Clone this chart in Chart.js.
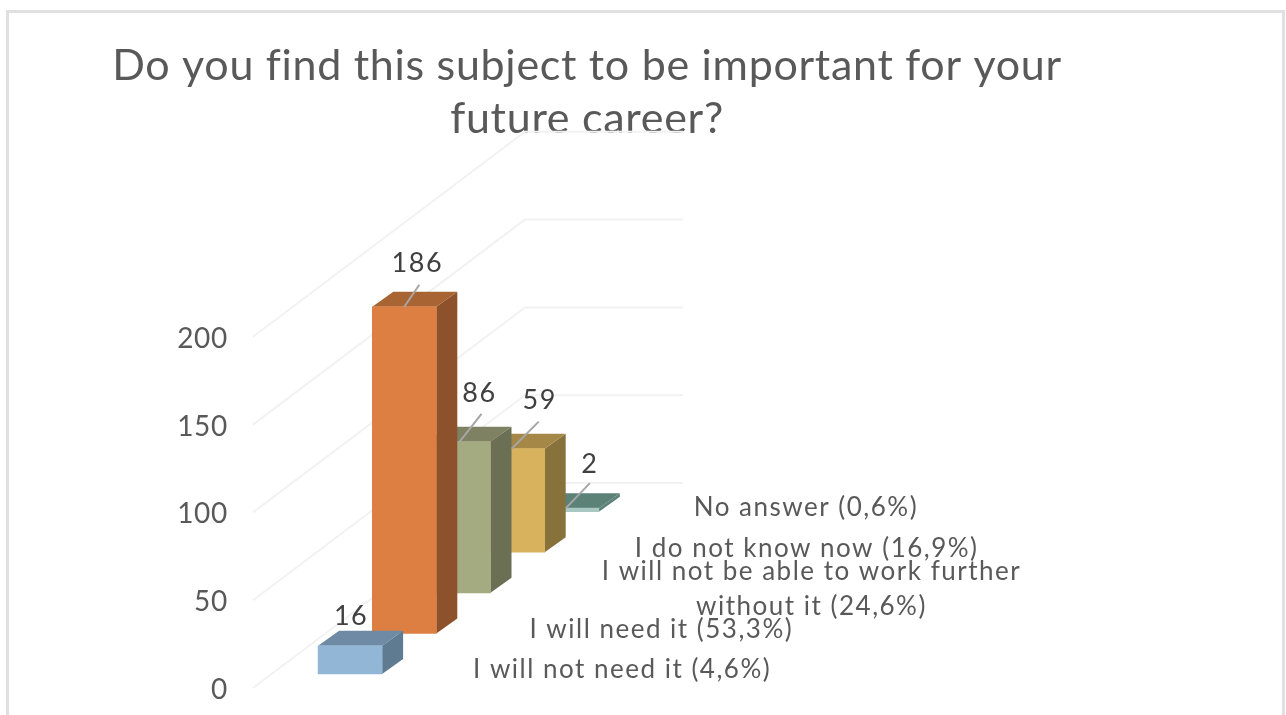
<!DOCTYPE html>
<html>
<head>
<meta charset="utf-8">
<title>Future career</title>
<script src="https://cdn.jsdelivr.net/npm/chart.js@4"></script>
<style>
    html, body { margin: 0; background: #fff; overflow: hidden; }
    #frame { position: absolute; left: 6px; top: 10px; width: 1273px; height: 720px; border: 3px solid #e0e0e0; }
    canvas { position: absolute; left: 0; top: 0; }
</style>
</head>
<body>
<div id="frame"></div>
<canvas id="careerChart" width="1286" height="715"></canvas>
<script>
// back row first, so nearer bars paint over the ones behind them
const categories = [
    'No answer (0,6%)',
    'I do not know now (16,9%)',
    ['I will not be able to work further', 'without it (24,6%)'],
    'I will need it (53,3%)',
    'I will not need it (4,6%)'
];
const answers = [2, 59, 86, 186, 16];
const yTicks = [0, 50, 100, 150, 200];

const frontColors = ['#a9c8c2', '#d8b25c', '#a5ab81', '#dd7f43', '#92b6d5'];
const topColors = ['#5c8278', '#a58847', '#7e8262', '#a96433', '#6f8aa5'];
const sideColors = ['#5c8278', '#87723c', '#6b7054', '#8d512b', '#5f7b91'];

// where the text sits relative to the top-centre of each bar's front face
const valueOffset = [[23, -44], [27, -48], [21, -48], [13, -43], [1, -30]];
const leaderEnd = [[23, -25], [26, -27], [23, -28], [15, -22], null];
const leaderStartDx = [-1, -1, 1, 0, 0];
const categoryDx = [239, 294, 353, 257, 272];

// 3D look: depth of one bar, and how far each row lifts off the floor (in axis units)
const DEPTH_X = 21, DEPTH_Y = 15;
const FLOOR_LIFT = 8, ROW_LIFT = 23.1;
const TEXT_COLOR = '#595959';

const spans = answers.map((v, i) => {
    const lift = FLOOR_LIFT + ROW_LIFT * (answers.length - 1 - i);
    return [lift, lift + v];
});

function poly(ctx, color, pts) {
    ctx.fillStyle = color;
    ctx.beginPath();
    pts.forEach((p, i) => i ? ctx.lineTo(p[0], p[1]) : ctx.moveTo(p[0], p[1]));
    ctx.closePath();
    ctx.fill();
}

class Bar3DController extends Chart.BarController {
    draw() {
        const ctx = this.chart.ctx;
        this.getMeta().data.forEach((bar, i) => {
            const l = bar.x - bar.width / 2, r = bar.x + bar.width / 2;
            poly(ctx, sideColors[i], [[r, bar.y], [r + DEPTH_X, bar.y - DEPTH_Y], [r + DEPTH_X, bar.base - DEPTH_Y], [r, bar.base]]);
            poly(ctx, topColors[i], [[l, bar.y], [l + DEPTH_X, bar.y - DEPTH_Y], [r + DEPTH_X, bar.y - DEPTH_Y], [r, bar.y]]);
            bar.draw(ctx);
        });
    }
}
Bar3DController.id = 'bar3d';
Bar3DController.defaults = Chart.BarController.defaults;
Chart.register(Bar3DController);

// the slanted floor/wall gridlines
const wallGrid = {
    id: 'wallGrid',
    beforeDatasetsDraw(chart) {
        const { ctx, scales: { y } } = chart;
        ctx.save();
        ctx.strokeStyle = '#f2f2f2';
        ctx.lineWidth = 2;
        yTicks.forEach(v => {
            const py = y.getPixelForValue(v);
            ctx.beginPath();
            ctx.moveTo(253, py);
            ctx.lineTo(525, py - 205);
            ctx.lineTo(683, py - 205);
            ctx.stroke();
        });
        ctx.restore();
    }
};

const barText = {
    id: 'barText',
    beforeDraw(chart) {
        // title is centred on the slide area, not on the plot
        chart.titleBlock.left = 0;
        chart.titleBlock.right = 1174;
        chart.ctx.letterSpacing = '0.7px';
    },
    afterDatasetsDraw(chart) {
        const ctx = chart.ctx;
        const bars = chart.getDatasetMeta(0).data;
        ctx.save();
        ctx.textAlign = 'center';
        ctx.textBaseline = 'middle';
        ctx.letterSpacing = '1.5px';
        bars.forEach((bar, i) => {
            if (leaderEnd[i]) {
                ctx.strokeStyle = '#a6a6a6';
                ctx.lineWidth = 2;
                ctx.beginPath();
                ctx.moveTo(bar.x + leaderStartDx[i], bar.y);
                ctx.lineTo(bar.x + leaderEnd[i][0], bar.y + leaderEnd[i][1]);
                ctx.stroke();
            }
            ctx.font = '27px Lato';
            ctx.fillStyle = '#404040';
            ctx.fillText(answers[i], bar.x + valueOffset[i][0], bar.y + valueOffset[i][1]);

            ctx.font = '26px Lato';
            ctx.fillStyle = TEXT_COLOR;
            const lines = [].concat(categories[i]);
            lines.forEach((line, n) => {
                const yc = bar.base - 4 + (n - (lines.length - 1) / 2) * 35;
                ctx.fillText(line, bar.x + categoryDx[i], yc);
            });
        });
        ctx.restore();
    }
};

new Chart(document.getElementById('careerChart'), {
    type: 'bar3d',
    data: {
        labels: categories,
        datasets: [{
            data: spans,
            backgroundColor: frontColors,
            barThickness: 64,
            clip: false
        }]
    },
    options: {
        responsive: false,
        animation: false,
        layout: { padding: { left: 86, right: 692, bottom: 27 } },
        plugins: {
            legend: { display: false },
            tooltip: { enabled: false },
            title: {
                display: true,
                text: ['Do you find this subject to be important for your', 'future career?'],
                color: TEXT_COLOR,
                font: { family: 'Lato', size: 43, weight: 'normal', lineHeight: 1.23 },
                padding: { top: 40, bottom: 191 }
            }
        },
        scales: {
            x: { type: 'category', reverse: true, display: false, offset: true },
            y: {
                type: 'linear',
                min: 0,
                max: 200,
                grid: { display: false },
                border: { display: false },
                ticks: {
                    stepSize: 50,
                    padding: 87,
                    labelOffset: 2,
                    color: TEXT_COLOR,
                    font: { family: 'Lato', size: 28 }
                },
                // big tick padding would otherwise eat into the plot height too
                afterFit(axis) {
                    axis.width = 237;
                    axis.paddingTop = 0;
                    axis.paddingBottom = 0;
                }
            }
        }
    },
    plugins: [wallGrid, barText]
});
</script>
</body>
</html>
